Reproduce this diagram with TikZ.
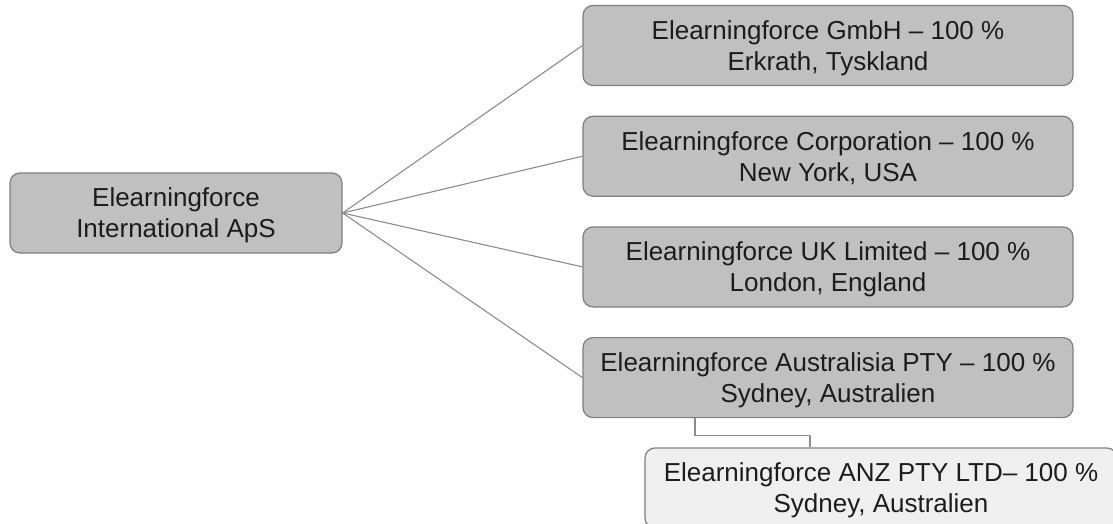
\documentclass[tikz,border=0pt]{standalone}
\usepackage{fontspec}
\setmainfont{Liberation Sans}
\usepackage{xcolor}
\usetikzlibrary{positioning}

\definecolor{boxgray}{HTML}{C0C0C0}
\definecolor{boxlight}{HTML}{EFEFEF}
\definecolor{edgegray}{HTML}{7F7F7F}
\definecolor{linegray}{HTML}{8C8C8C}
\definecolor{txt}{HTML}{1C1C1C}

\begin{document}
\begin{tikzpicture}[
  x=1pt,y=-1pt,
  node distance=29.5pt,
  co/.style={draw=edgegray,line width=1.2pt,rounded corners=10pt,align=center,
             fill=boxgray,text=txt,font=\fontsize{26}{31}\selectfont,inner sep=0pt,
             text depth=0pt},
  sub/.style={co,minimum width=490pt,minimum height=80pt},
  link/.style={draw=linegray,line width=1.1pt}
]
\useasboundingbox (0,0) rectangle (1113,524);
\node[co,minimum width=332pt,minimum height=80pt] (intl) at (176,213) {Elearningforce\\International ApS};
\node[sub] (gmbh) at (828,45.5) {Elearningforce GmbH -- 100 \%\\Erkrath, Tyskland};
\node[sub,below=of gmbh] (corp) {Elearningforce Corporation -- 100 \%\\New York, USA};
\node[sub,below=of corp] (uk) {Elearningforce UK Limited -- 100 \%\\London, England};
\node[sub,below=of uk] (aus) {Elearningforce Australisia PTY -- 100 \%\\Sydney, Australien};
\node[sub,fill=boxlight,minimum width=472pt] (anz) at (881,488) {Elearningforce ANZ PTY LTD-- 100 \%\\Sydney, Australien};
\foreach \s in {gmbh,corp,uk,aus}
  \draw[link] (intl.east) -- (\s.west);
\draw[link] ([xshift=-133pt]aus.south) -- ++(0,17) -| ([xshift=-71pt]anz.north);
\end{tikzpicture}
\end{document}
